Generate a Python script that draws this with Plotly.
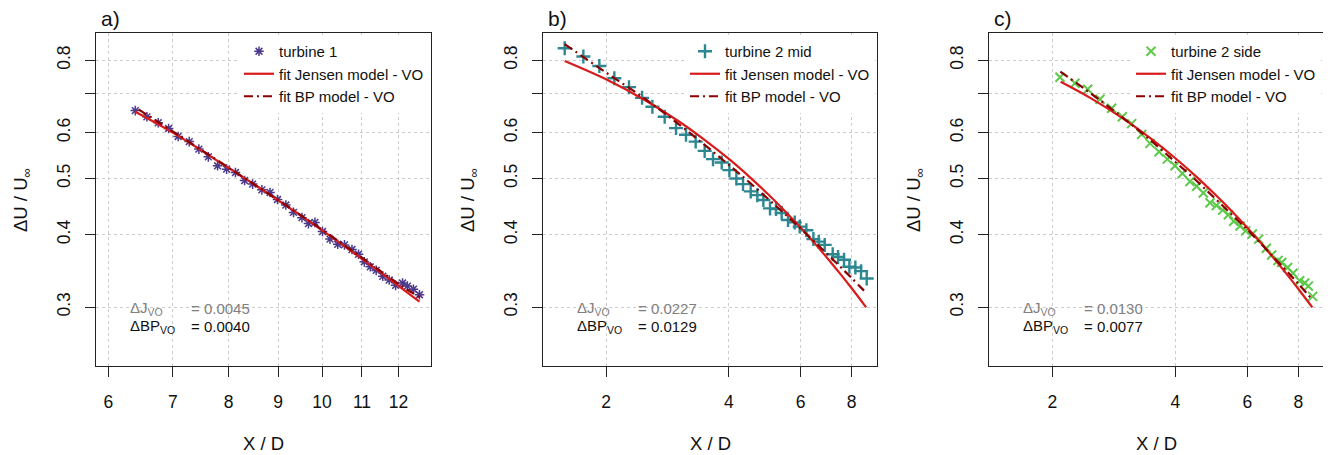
import plotly.graph_objects as go

W, H = 1331, 455
OFF = 8                     # default body margin of the page
FW, FH = W - OFF, H - OFF   # figure size so that it fits the window

# ---------------- data: panel a) turbine 1 ----------------
t1_x = [6.40, 6.58, 6.76, 6.93, 7.09, 7.28, 7.45, 7.62, 7.79, 7.96, 8.13, 8.31, 8.47,
        8.66, 8.83, 8.99, 9.17, 9.34, 9.53, 9.68, 9.83, 10.01, 10.19, 10.38, 10.55,
        10.74, 10.91, 11.06, 11.22, 11.38, 11.56, 11.74, 11.92, 12.12, 12.26, 12.44, 12.62]
t1_y = [0.655, 0.639, 0.624, 0.610, 0.591, 0.579, 0.562, 0.545, 0.526, 0.519, 0.512, 0.496,
        0.489, 0.478, 0.473, 0.460, 0.450, 0.437, 0.428, 0.418, 0.420, 0.405, 0.393, 0.385,
        0.384, 0.377, 0.370, 0.359, 0.352, 0.347, 0.339, 0.334, 0.327, 0.330, 0.326, 0.322, 0.315]
jen_a_x = [6.40, 7.0, 8.0, 9.0, 10.0, 11.0, 12.0, 12.62]
jen_a_y = [0.652, 0.600, 0.5212, 0.4589, 0.4069, 0.3633, 0.3264, 0.3064]
bp_a_x = [6.45, 7.0, 8.0, 9.0, 10.0, 11.0, 12.0, 12.62]
bp_a_y = [0.658, 0.603, 0.522, 0.459, 0.408, 0.365, 0.329, 0.312]

# ---------------- data: panel b) turbine 2 mid ----------------
t2m_x = [1.584, 1.760, 1.926, 2.096, 2.277, 2.451, 2.598, 2.785, 2.969, 3.141, 3.317, 3.490,
         3.658, 3.842, 4.012, 4.173, 4.333, 4.525, 4.698, 4.860, 5.046, 5.220, 5.389, 5.586,
         5.800, 5.966, 6.195, 6.445, 6.642, 6.870, 7.187, 7.407, 7.662, 7.896, 8.168, 8.434, 8.707]
t2m_y = [0.839, 0.812, 0.782, 0.745, 0.719, 0.689, 0.665, 0.639, 0.611, 0.595, 0.579, 0.558,
         0.540, 0.533, 0.517, 0.500, 0.489, 0.475, 0.468, 0.459, 0.444, 0.443, 0.436, 0.424,
         0.420, 0.413, 0.407, 0.393, 0.389, 0.384, 0.370, 0.366, 0.362, 0.352, 0.351, 0.346, 0.336]
jen_b_x = [1.584, 2.0, 2.5, 3.0, 3.5, 4.0, 4.5, 5.0, 5.5, 6.0, 6.5, 7.0, 7.5, 8.0, 8.68]
jen_b_y = [0.798, 0.742, 0.682, 0.629, 0.582, 0.5404, 0.5029, 0.4692, 0.4387, 0.411,
           0.386, 0.3632, 0.3423, 0.3232, 0.2996]
bp_b_x = [1.584, 2.0, 2.5, 3.0, 3.5, 4.0, 4.5, 5.0, 5.5, 6.0, 6.5, 7.0, 7.5, 8.0, 8.707]
bp_b_y = [0.853, 0.762, 0.6854, 0.6221, 0.5706, 0.528, 0.4918, 0.4606, 0.4334, 0.4096,
          0.3883, 0.3693, 0.3521, 0.3365, 0.3168]

# ---------------- data: panel c) turbine 2 side ----------------
t2s_x = [2.088, 2.272, 2.441, 2.616, 2.794, 2.967, 3.127, 3.309, 3.468, 3.648, 3.823, 3.992,
         4.161, 4.344, 4.511, 4.683, 4.862, 5.039, 5.222, 5.392, 5.556, 5.758, 5.945, 6.173,
         6.397, 6.679, 6.883, 7.133, 7.282, 7.532, 7.762, 8.059, 8.290, 8.462, 8.671]
t2s_y = [0.748, 0.730, 0.713, 0.685, 0.661, 0.639, 0.622, 0.596, 0.575, 0.556, 0.540, 0.526,
         0.510, 0.494, 0.485, 0.472, 0.454, 0.449, 0.441, 0.433, 0.422, 0.414, 0.406, 0.401,
         0.393, 0.379, 0.369, 0.361, 0.358, 0.351, 0.343, 0.333, 0.330, 0.326, 0.313]
jen_c_x = [2.096, 2.5, 3.0, 3.5, 4.0, 4.5, 5.0, 5.5, 6.0, 6.5, 7.0, 7.5, 8.0, 8.655]
jen_c_y = [0.7344, 0.6862, 0.6324, 0.5846, 0.5420, 0.5039, 0.4697, 0.4389, 0.4110,
           0.3857, 0.3626, 0.3416, 0.3223, 0.2995]
bp_c_x = [2.092, 2.5, 3.0, 3.5, 4.0, 4.5, 5.0, 5.5, 6.0, 6.5, 7.0, 7.5, 8.0, 8.69]
bp_c_y = [0.765, 0.699, 0.634, 0.580, 0.534, 0.496, 0.462, 0.433, 0.408, 0.385, 0.364,
          0.346, 0.329, 0.308]

# ---------------- labels ----------------
panel_tags = ["a)", "b)", "c)"]
series_names = ["turbine 1", "turbine 2 mid", "turbine 2 side"]
jensen_name = "fit Jensen model - VO"
bp_name = "fit BP model - VO"
dJ_values = ["0.0045", "0.0227", "0.0130"]
dBP_values = ["0.0040", "0.0129", "0.0077"]
x_ticks = [[6, 7, 8, 9, 10, 11, 12], [2, 4, 6, 8], [2, 4, 6, 8]]
y_ticks = [0.3, 0.4, 0.5, 0.6, 0.7, 0.8]
y_ticktext = ["0.3", "0.4", "0.5", "0.6", "", "0.8"]
x_ranges = [[0.7654, 1.1130], [0.1466, 0.9651], [0.1461, 0.9633]]
y_range = [-0.6247, -0.0498]

# ---------------- styling ----------------
FONT = "Liberation Sans, Arial, Helvetica, sans-serif"
RED = "#D81B1B"
DARKRED = "#8B0000"
marker_styles = [
    dict(symbol="asterisk-open", size=8, color="#4B3A8C", line=dict(color="#4B3A8C", width=1.5)),
    dict(symbol="cross-thin-open", size=10, color="#2C8791", line=dict(color="#2C8791", width=2.4)),
    dict(symbol="x-thin-open", size=9, color="#5DC94B", line=dict(color="#5DC94B", width=2.0)),
]

# box pixel positions in the window (left, right); top/bottom common
box_lr = [(96, 431), (543, 877), (989, 1323)]
box_top, box_bot = 33, 366

def px2fx(px):
    return (px - OFF) / FW

def py2fy(py):
    return 1 - (py - OFF) / FH

series = [
    (t1_x, t1_y, jen_a_x, jen_a_y, bp_a_x, bp_a_y),
    (t2m_x, t2m_y, jen_b_x, jen_b_y, bp_b_x, bp_b_y),
    (t2s_x, t2s_y, jen_c_x, jen_c_y, bp_c_x, bp_c_y),
]

fig = go.Figure()
layout = dict(
    width=FW, height=FH, margin=dict(l=0, r=0, t=0, b=0),
    paper_bgcolor="white", plot_bgcolor="white",
    font=dict(family=FONT, size=15, color="#111111"),
    showlegend=True,
)
annotations = []

for i in range(3):
    sx, sy, jx, jy, bx, by = series[i]
    xa = "x" if i == 0 else f"x{i+1}"
    ya = "y" if i == 0 else f"y{i+1}"
    leg = "legend" if i == 0 else f"legend{i+1}"
    fig.add_trace(go.Scatter(x=sx, y=sy, mode="markers", name=series_names[i],
                             marker=marker_styles[i], xaxis=xa, yaxis=ya, legend=leg))
    fig.add_trace(go.Scatter(x=jx, y=jy, mode="lines", name=jensen_name,
                             line=dict(color=RED, width=2.2, shape="spline"),
                             xaxis=xa, yaxis=ya, legend=leg))
    fig.add_trace(go.Scatter(x=bx, y=by, mode="lines", name=bp_name,
                             line=dict(color=DARKRED, width=2.2, dash="9px,4px,2px,4px", shape="spline"),
                             xaxis=xa, yaxis=ya, legend=leg))

    l, r = box_lr[i]
    axn = "xaxis" if i == 0 else f"xaxis{i+1}"
    ayn = "yaxis" if i == 0 else f"yaxis{i+1}"
    common = dict(type="log", showline=True, linecolor="#222222", linewidth=1, mirror=True,
                  ticks="outside", ticklen=10, tickwidth=1, tickcolor="#222222",
                  showgrid=True, gridcolor="#CCCCCC", griddash="dot", gridwidth=1,
                  zeroline=False, tickfont=dict(family=FONT, size=17.5, color="#111111"))
    layout[axn] = dict(common, domain=[px2fx(l), px2fx(r)], range=x_ranges[i],
                       tickvals=x_ticks[i], ticktext=[str(v) for v in x_ticks[i]],
                       anchor=ya, ticklabelstandoff=10)
    layout[ayn] = dict(common, domain=[py2fy(box_bot), py2fy(box_top)], range=y_range,
                       tickvals=y_ticks, ticktext=y_ticktext, tickangle=-90,
                       anchor=xa, ticklabelstandoff=8)
    # legend (top-right inset, kept inside the box so the frame stays visible)
    layout[leg] = dict(x=px2fx(r - 2), y=py2fy(35), xanchor="right", yanchor="top",
                       bgcolor="white", borderwidth=0,
                       font=dict(family=FONT, size=15, color="#111111"))
    # panel tag
    annotations.append(dict(text=panel_tags[i], x=px2fx(l + 3), y=py2fy(18), xref="paper", yref="paper",
                            xanchor="left", yanchor="middle", showarrow=False,
                            font=dict(family=FONT, size=21, color="#111111")))
    # axis titles
    annotations.append(dict(text="X / D", x=px2fx((l + r) / 2), y=py2fy(443), xref="paper", yref="paper",
                            xanchor="center", yanchor="middle", showarrow=False,
                            font=dict(family=FONT, size=18.5, color="#111111")))
    annotations.append(dict(text="ΔU / U<sub>∞</sub>", x=px2fx(l - 74), y=py2fy(200), xref="paper", yref="paper",
                            xanchor="center", yanchor="middle", showarrow=False, textangle=-90,
                            font=dict(family=FONT, size=18.5, color="#111111")))
    # error annotations
    annotations.append(dict(text="ΔJ<sub>VO</sub>", x=px2fx(l + 32), y=py2fy(308), xref="paper", yref="paper",
                            xanchor="left", yanchor="middle", showarrow=False,
                            font=dict(family=FONT, size=15, color="#808080")))
    annotations.append(dict(text="= " + dJ_values[i], x=px2fx(l + 93), y=py2fy(308), xref="paper", yref="paper",
                            xanchor="left", yanchor="middle", showarrow=False,
                            font=dict(family=FONT, size=15, color="#808080")))
    annotations.append(dict(text="ΔBP<sub>VO</sub>", x=px2fx(l + 32), y=py2fy(326), xref="paper", yref="paper",
                            xanchor="left", yanchor="middle", showarrow=False,
                            font=dict(family=FONT, size=15, color="#111111")))
    annotations.append(dict(text="= " + dBP_values[i], x=px2fx(l + 93), y=py2fy(326), xref="paper", yref="paper",
                            xanchor="left", yanchor="middle", showarrow=False,
                            font=dict(family=FONT, size=15, color="#111111")))

layout["annotations"] = annotations
fig.update_layout(**layout)
fig.write_html("out.html")
